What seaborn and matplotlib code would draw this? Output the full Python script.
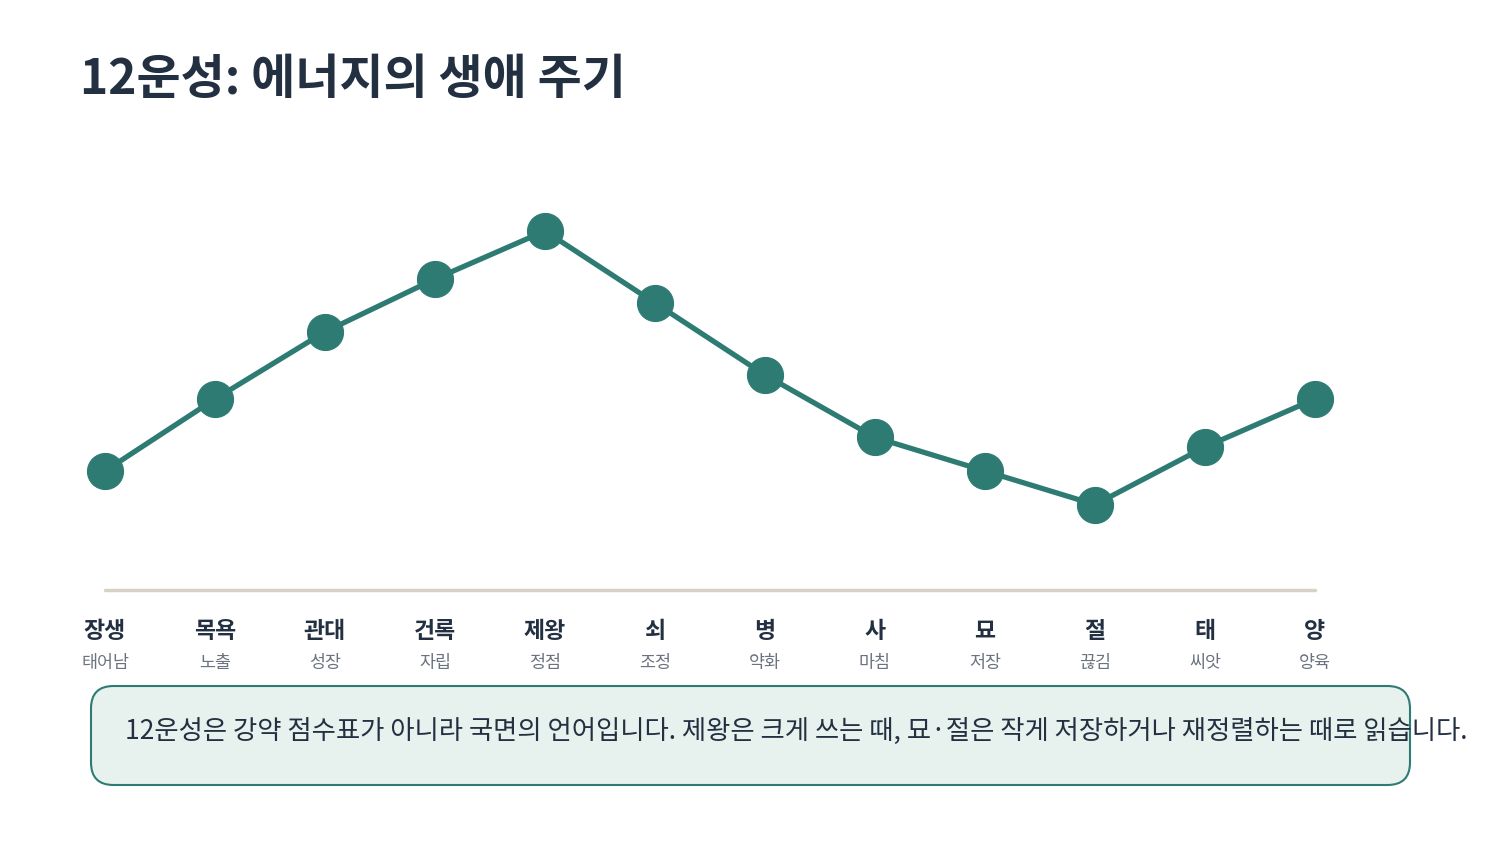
import matplotlib
matplotlib.use("Agg")
import matplotlib.pyplot as plt
import seaborn as sns
import pandas as pd
from matplotlib.patches import FancyBboxPatch

stages = ["장생", "목욕", "관대", "건록", "제왕", "쇠", "병", "사", "묘", "절", "태", "양"]
meanings = ["태어남", "노출", "성장", "자립", "정점", "조정", "약화", "마침", "저장", "끊김", "씨앗", "양육"]
energy = [50, 65, 79, 90, 100, 85, 70, 57, 50, 43, 55, 65]

title = "12운성: 에너지의 생애 주기"
note = "12운성은 강약 점수표가 아니라 국면의 언어입니다. 제왕은 크게 쓰는 때, 묘·절은 작게 저장하거나 재정렬하는 때로 읽습니다."

sns.set_theme(style="white")
plt.rcParams['font.family'] = ['Noto Sans CJK KR', 'DejaVu Sans']

TEAL = "#2e7b73"
DARK = "#223041"
GRAY = "#6b7280"

W, H = 1500, 850
fig = plt.figure(figsize=(15, 8.5), dpi=100)
ax = fig.add_axes([0, 0, 1, 1])
ax.set_axis_off()

df = pd.DataFrame({"x": range(len(stages)), "stage": stages, "energy": energy})
sns.lineplot(data=df, x="x", y="energy", ax=ax, color=TEAL, linewidth=3.8,
             marker="o", markersize=26, markeredgecolor=TEAL, markerfacecolor=TEAL)

# map data to pixel layout: x px = 105 + i*110 ; y px = 231 + (100-v)*4.8
ax.set_xlim(-105 / 110, (W - 105) / 110)
ax.set_ylim(100 - (H - 231) / 4.8, 100 + 231 / 4.8)

def fx(px):
    return px / W

def fy(py):
    return 1 - py / H

# baseline
fig.add_artist(plt.Line2D([fx(105), fx(1315)], [fy(590), fy(590)], color="#d8d1c5", lw=2.5))

for i, (s, m) in enumerate(zip(stages, meanings)):
    px = 105 + i * 110
    fig.text(fx(px), fy(631), s, ha="center", va="center", fontsize=16.5,
             fontweight="bold", color=DARK)
    fig.text(fx(px), fy(663), m, ha="center", va="center", fontsize=12.5, color=GRAY)

fig.text(fx(80), fy(80), title, ha="left", va="center", fontsize=34.5,
         fontweight="bold", color=DARK)

box = FancyBboxPatch((fx(91), fy(785)), fx(1410) - fx(91), fy(686) - fy(785),
                     boxstyle="round,pad=0,rounding_size=0.015",
                     transform=fig.transFigure, facecolor="#e7f1ee",
                     edgecolor=TEAL, linewidth=1.5, mutation_aspect=W / H)
fig.add_artist(box)
fig.text(fx(125), fy(731), note, ha="left", va="center", fontsize=19, color=DARK)

fig.savefig("out.png", dpi=100)
